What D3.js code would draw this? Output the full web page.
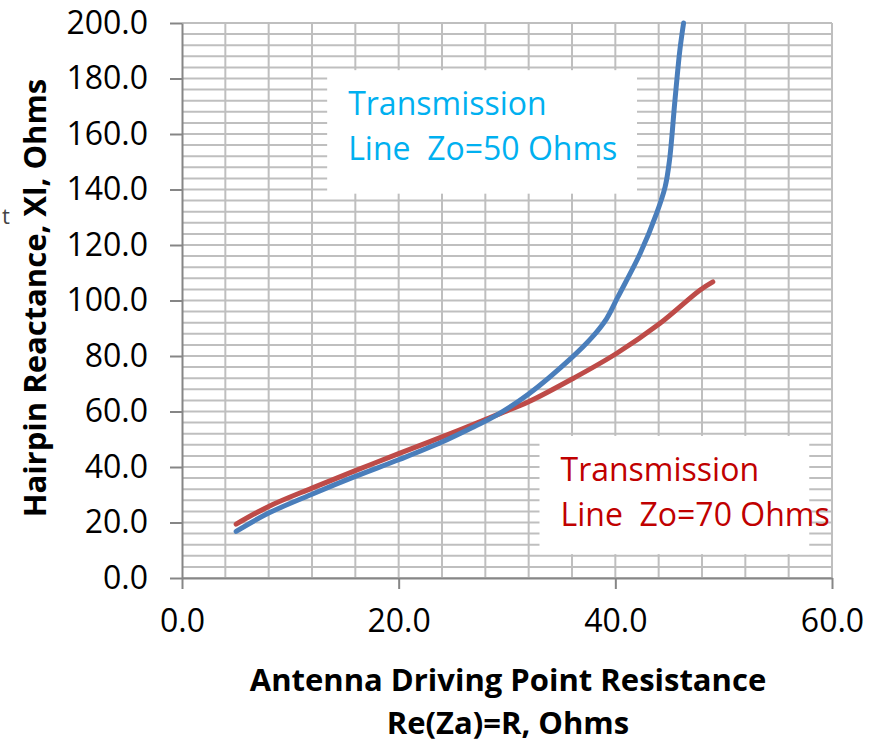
<!doctype html>
<html lang="en">
<head>
<meta charset="UTF-8">
<title>Hairpin Reactance</title>
<style>
  body { margin: 0; background: #fff; }
  .grid line { stroke: #bfbfbf; stroke-width: 2; }
  .axis path, .axis line { stroke: #868686; stroke-width: 2; }
  .axis text { font-family: "Open Sans", sans-serif; font-size: 32px; fill: #000; }
  .title { font-family: "Open Sans", sans-serif; font-weight: bold; font-size: 31px; fill: #000; }
  .note { font-family: "Open Sans", sans-serif; font-size: 32px; white-space: pre; }
</style>
</head>
<body>
<svg width="883" height="744"></svg>
<script src="https://cdn.jsdelivr.net/npm/d3@7"></script>
<script>
// Zo = 50 Ohms line
var r50 = [5, 8, 12, 16, 20, 24, 27, 29, 32, 36, 37.8, 39.2, 40.2, 42.3, 43.8, 44.6, 45, 45.5, 45.95, 46.3];
var x50 = [16.8, 23.4, 30.2, 36.6, 42.6, 49, 54.6, 58.6, 66.3, 79.5, 86.5, 93.5, 101, 117, 131.3, 141, 150.5, 172, 190, 200];
// Zo = 70 Ohms line
var r70 = [5, 8, 12, 16, 20, 25.6, 29, 32, 36.1, 40.1, 44.1, 47.8, 49];
var x70 = [19.4, 25.8, 32.4, 38.7, 44.8, 53.3, 58.7, 63.5, 71.9, 80.9, 91.7, 103.7, 106.7];

var xTicks = [0, 20, 40, 60];
var yTicks = [0, 20, 40, 60, 80, 100, 120, 140, 160, 180, 200];

var svg = d3.select('svg'),
    margin = { top: 23, right: 51, bottom: 166, left: 182 },
    width = svg.attr('width') - margin.left - margin.right,
    height = svg.attr('height') - margin.top - margin.bottom;

var x = d3.scaleLinear().domain([0, 60]).range([0, width]);
var y = d3.scaleLinear().domain([0, 200]).range([height, 0]);

var g = svg.append('g')
    .attr('transform', 'translate(' + margin.left + ',' + margin.top + ')');

// minor gridlines every 4 units
g.append('g').attr('class', 'grid')
    .selectAll('line').data(d3.range(0, 201, 4))
    .enter().append('line')
    .attr('x1', 0).attr('x2', width)
    .attr('y1', function(d) { return y(d); })
    .attr('y2', function(d) { return y(d); });
g.append('g').attr('class', 'grid')
    .selectAll('line').data(d3.range(4, 61, 4))
    .enter().append('line')
    .attr('y1', 0).attr('y2', height)
    .attr('x1', function(d) { return x(d); })
    .attr('x2', function(d) { return x(d); });

// text boxes sit over the grid
function note(x0, y0, x1, y1, color, lines) {
    g.append('rect')
        .attr('x', x(x0)).attr('y', y(y0))
        .attr('width', x(x1) - x(x0)).attr('height', y(y1) - y(y0))
        .attr('fill', '#fff');
    lines.forEach(function(t, i) {
        g.append('text').attr('class', 'note')
            .attr('x', x(x0) + 21).attr('y', y(y0) + 45 + i * 45)
            .attr('fill', color)
            .text(t);
    });
}
note(13.4, 183, 42, 138.5, '#00b0f0', ['Transmission', 'Line  Zo=50 Ohms']);
note(33, 51.2, 57.9, 8.6, '#c00000', ['Transmission', 'Line  Zo=70 Ohms']);

g.append('g').attr('class', 'axis')
    .attr('transform', 'translate(0,' + height + ')')
    .call(d3.axisBottom(x).tickValues(xTicks).tickSize(11).tickSizeOuter(0).tickPadding(20)
        .tickFormat(d3.format('.1f')));
g.append('g').attr('class', 'axis')
    .call(d3.axisLeft(y).tickValues(yTicks).tickSize(12).tickSizeOuter(0).tickPadding(22)
        .tickFormat(d3.format('.1f')));

var line = d3.line()
    .x(function(d) { return x(d[0]); })
    .y(function(d) { return y(d[1]); })
    .curve(d3.curveCatmullRom.alpha(0.5));

g.append('path')
    .datum(d3.zip(r70, x70))
    .attr('fill', 'none').attr('stroke', '#be4b48')
    .attr('stroke-width', 5).attr('stroke-linecap', 'round')
    .attr('d', line);
g.append('path')
    .datum(d3.zip(r50, x50))
    .attr('fill', 'none').attr('stroke', '#4a7ebb')
    .attr('stroke-width', 5).attr('stroke-linecap', 'round')
    .attr('d', line);

// axis titles
svg.append('text').attr('class', 'title')
    .attr('text-anchor', 'middle')
    .attr('x', 508).attr('y', 691)
    .text('Antenna Driving Point Resistance');
svg.append('text').attr('class', 'title')
    .attr('text-anchor', 'middle')
    .attr('x', 508).attr('y', 734)
    .text('Re(Za)=R, Ohms');
svg.append('text').attr('class', 'title')
    .attr('text-anchor', 'middle')
    .attr('transform', 'translate(46,298) rotate(-90)')
    .text('Hairpin Reactance, Xl, Ohms');

svg.append('text')
    .attr('x', 2).attr('y', 224)
    .attr('font-family', 'Open Sans, sans-serif')
    .attr('font-size', '22px')
    .attr('fill', '#444')
    .text('t');
</script>
</body>
</html>
